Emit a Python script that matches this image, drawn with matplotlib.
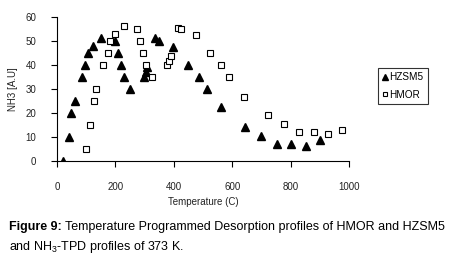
import numpy as np
import matplotlib.pyplot as plt

plt.rcParams['font.family'] = ['Liberation Sans', 'DejaVu Sans']
plt.rcParams['mathtext.fontset'] = 'custom'
plt.rcParams['mathtext.rm'] = 'Liberation Sans'

# HZSM5 profile (triangles)
hzsm5_t = [20, 40, 48, 60, 85, 95, 105, 122, 150, 200, 210, 218, 230, 250,
           298, 305, 310, 336, 350, 398, 450, 487, 513, 563,
           645, 700, 754, 802, 853, 902]
hzsm5_v = [0, 10, 20, 25, 35, 40, 45, 48, 51, 50, 45, 40, 35, 30,
           35, 37, 39, 51, 50, 47.5, 40, 35, 30, 22.5,
           14, 10.5, 7, 7, 6, 8.5]

# HMOR profile (squares)
hmor_t = [100, 113, 127, 135, 159, 173, 180, 200, 228, 275, 285, 296, 305, 327,
          376, 385, 392, 413, 424, 476, 525, 563, 590, 640, 723, 779,
          828, 880, 928, 977]
hmor_v = [5, 15, 25, 30, 40, 45, 50, 53, 56, 55, 50, 45, 40, 35,
          40, 41.5, 43.5, 55.5, 55, 52.5, 45, 40, 35, 26.7, 19, 15.4,
          12, 12, 11, 13]

fig = plt.figure(figsize=(4.49, 2.69), dpi=100)
ax = fig.add_axes([0.127, 0.4026, 0.65, 0.5353])

ax.plot(hzsm5_t, hzsm5_v, linestyle='none', marker='^', markersize=6,
        color='black', label='HZSM5')
ax.plot(hmor_t, hmor_v, linestyle='none', marker='s', markersize=5,
        markerfacecolor='white', markeredgecolor='black', markeredgewidth=0.8,
        label='HMOR')

ax.set_xlim(0, 1000)
ax.set_ylim(0, 60)
ax.set_xticks(np.arange(0, 1001, 200))
ax.set_yticks(np.arange(0, 61, 10))
ax.spines['top'].set_visible(False)
ax.spines['right'].set_visible(False)
for s in ['left', 'bottom']:
    ax.spines[s].set_linewidth(0.8)
ax.tick_params(direction='out', length=4, width=0.8, labelsize=7,
               labelcolor='#222222')
ax.tick_params(axis='x', pad=11)
ax.tick_params(axis='y', pad=11)

ax.set_xlabel('Temperature (C)', fontsize=7, color='#222222', labelpad=4)
ax.set_ylabel('NH3 [A.U]', fontsize=7, color='#222222', labelpad=5)

leg = fig.legend(loc='upper left', bbox_to_anchor=(0.842, 0.747),
                 fontsize=7.2, frameon=True, fancybox=False, markerscale=0.65,
                 handlelength=0.5, handletextpad=0.25, borderpad=0.4,
                 labelspacing=0.75, borderaxespad=0)
leg.get_frame().set_edgecolor('black')
leg.get_frame().set_linewidth(0.8)

# caption, bold lead-in followed by normal text
t1 = fig.text(0.02, 0.155, 'Figure 9:', fontsize=9, fontweight='bold',
              va='center', ha='left')
fig.canvas.draw()
bb = t1.get_window_extent()
x_next = (bb.x1 + 3) / fig.bbox.width
fig.text(x_next, 0.155, 'Temperature Programmed Desorption profiles of HMOR and HZSM5',
         fontsize=9, va='center', ha='left')
fig.text(0.02, 0.083, r'and NH$_3$-TPD profiles of 373 K.',
         fontsize=9, va='center', ha='left')

fig.savefig('out.png', dpi=100)
